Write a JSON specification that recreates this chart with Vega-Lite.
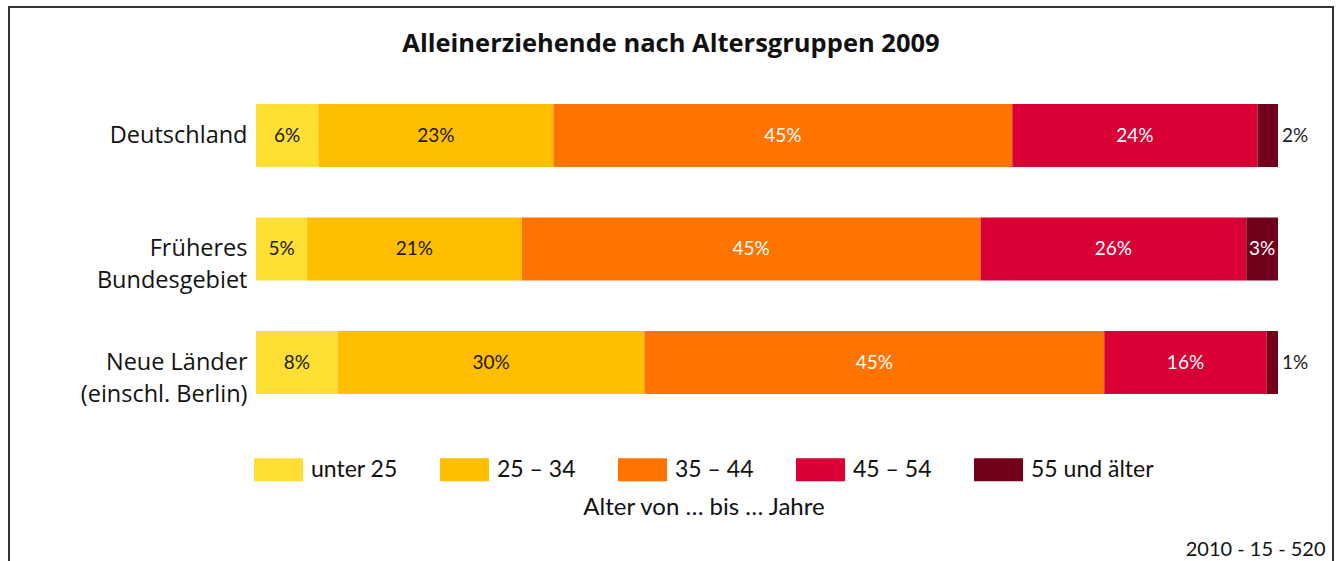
{
  "$schema": "https://vega.github.io/schema/vega-lite/v6.json",
  "width": 1324,
  "height": 554,
  "autosize": {"type": "none"},
  "padding": {"left": 9, "top": 7, "right": 9, "bottom": 0},
  "background": "white",
  "title": {
    "text": "Alleinerziehende nach Altersgruppen 2009",
    "font": "Open Sans", "fontSize": 25.5, "fontWeight": "bold", "color": "#111",
    "anchor": "middle", "baseline": "alphabetic", "offset": -70
  },
  "data": {
    "values": [
      {"region": "Deutschland", "group": "unter 25", "value": 6.1, "label": "6%"},
      {"region": "Deutschland", "group": "25 – 34", "value": 23.0, "label": "23%"},
      {"region": "Deutschland", "group": "35 – 44", "value": 44.9, "label": "45%"},
      {"region": "Deutschland", "group": "45 – 54", "value": 24.0, "label": "24%"},
      {"region": "Deutschland", "group": "55 und älter", "value": 2.0, "label": "2%"},
      {"region": "Früheres Bundesgebiet", "group": "unter 25", "value": 5.0, "label": "5%"},
      {"region": "Früheres Bundesgebiet", "group": "25 – 34", "value": 21.0, "label": "21%"},
      {"region": "Früheres Bundesgebiet", "group": "35 – 44", "value": 44.9, "label": "45%"},
      {"region": "Früheres Bundesgebiet", "group": "45 – 54", "value": 26.0, "label": "26%"},
      {"region": "Früheres Bundesgebiet", "group": "55 und älter", "value": 3.1, "label": "3%"},
      {"region": "Neue Länder (einschl. Berlin)", "group": "unter 25", "value": 8.0, "label": "8%"},
      {"region": "Neue Länder (einschl. Berlin)", "group": "25 – 34", "value": 30.0, "label": "30%"},
      {"region": "Neue Länder (einschl. Berlin)", "group": "35 – 44", "value": 45.0, "label": "45%"},
      {"region": "Neue Länder (einschl. Berlin)", "group": "45 – 54", "value": 15.9, "label": "16%"},
      {"region": "Neue Länder (einschl. Berlin)", "group": "55 und älter", "value": 1.1, "label": "1%"}
    ]
  },
  "transform": [
    {"calculate": "indexof(['unter 25','25 – 34','35 – 44','45 – 54','55 und älter'], datum.group)", "as": "rank"},
    {"stack": "value", "groupby": ["region"], "sort": [{"field": "rank", "order": "ascending"}], "as": ["x0", "x1"]},
    {"calculate": "(datum.x0 + datum.x1) / 2", "as": "mid"}
  ],
  "encoding": {
    "y": {
      "field": "region", "type": "nominal",
      "sort": ["Deutschland", "Früheres Bundesgebiet", "Neue Länder (einschl. Berlin)"],
      "scale": {"range": [71.75, 412.25], "paddingInner": 0.445, "paddingOuter": 0.2225},
      "axis": {
        "orient": "left", "offset": -243, "domain": false, "ticks": false, "tickSize": 0,
        "labelPadding": 5, "labelFont": "Open Sans", "labelFontSize": 23.5, "labelColor": "#111",
        "labelLineHeight": 32, "labelLimit": 400, "title": null,
        "labelExpr": "datum.label == 'Früheres Bundesgebiet' ? ['Früheres', 'Bundesgebiet'] : datum.label == 'Neue Länder (einschl. Berlin)' ? ['Neue Länder', '(einschl. Berlin)'] : datum.label"
      }
    }
  },
  "layer": [
    {
      "mark": {"type": "bar"},
      "encoding": {
        "x": {
          "field": "x0", "type": "quantitative", "title": "2010 - 15 - 520",
          "scale": {"domain": [0, 100], "range": [247, 1269], "nice": false, "zero": false},
          "axis": {
            "orient": "bottom", "domain": false, "ticks": false, "labels": false, "grid": false,
            "title": "2010 - 15 - 520", "titleFont": "Lato", "titleFontSize": 20, "titleFontWeight": "normal",
            "titleColor": "#111", "titleX": 1316, "titleY": -6, "titleAlign": "right",
            "titleBaseline": "alphabetic", "titleAnchor": "end"
          }
        },
        "x2": {"field": "x1"},
        "color": {
          "field": "group", "type": "nominal",
          "scale": {
            "domain": ["unter 25", "25 – 34", "35 – 44", "45 – 54", "55 und älter"],
            "range": ["#FFDF33", "#FFBE00", "#FF7300", "#D90036", "#72001B"]
          },
          "legend": {
            "orient": "none", "legendX": 245, "legendY": 438, "direction": "horizontal",
            "title": "Alter von … bis … Jahre", "titleOrient": "bottom", "titleAnchor": "middle",
            "titleFont": "Lato", "titleFontSize": 24, "titleFontWeight": "normal", "titleColor": "#111",
            "titlePadding": 14, "titleLimit": 1000, "labelFont": "Lato", "labelFontSize": 23, "labelColor": "#111",
            "labelOffset": 8, "columnPadding": 42, "symbolType": "M-1,-0.47H1V0.47H-1Z",
            "symbolSize": 2401, "symbolStrokeWidth": 0, "symbolOpacity": 1, "labelLimit": 400, "padding": 0
          }
        }
      }
    },
    {
      "transform": [{"filter": "datum.value >= 2.5"}],
      "mark": {"type": "text", "font": "Lato", "fontSize": 19, "baseline": "middle", "align": "center"},
      "encoding": {
        "x": {"field": "mid", "type": "quantitative", "title": "2010 - 15 - 520"},
        "text": {"field": "label"},
        "color": {"condition": {"test": "datum.rank < 2", "value": "#1a1a1a"}, "value": "white"}
      }
    },
    {
      "transform": [{"filter": "datum.value < 2.5"}],
      "mark": {"type": "text", "font": "Lato", "fontSize": 19, "baseline": "middle", "align": "left", "dx": 4},
      "encoding": {
        "x": {"field": "x1", "type": "quantitative", "title": "2010 - 15 - 520"},
        "text": {"field": "label"},
        "color": {"value": "#1a1a1a"}
      }
    }
  ],
  "config": {
    "font": "Lato",
    "view": {"stroke": "#333", "strokeWidth": 2, "strokeDash": [1878, 1324, 554]}
  }
}
